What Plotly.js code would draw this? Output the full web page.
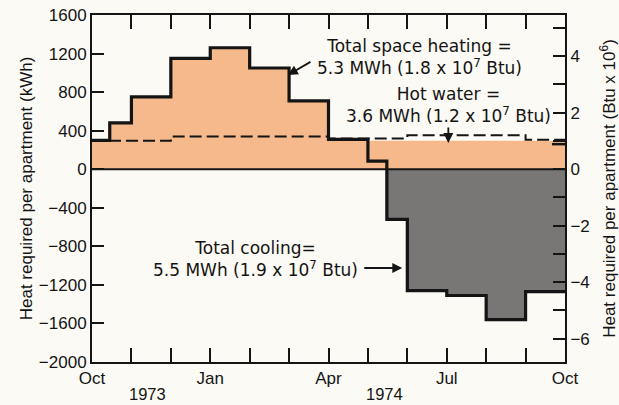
<!DOCTYPE html>
<html>
<head>
<meta charset="utf-8">
<script src="https://cdn.plot.ly/plotly-3.0.1.min.js"></script>
<style>html,body{margin:0;padding:0;background:#fcfaf4;}#chart{width:619px;height:405px;}</style>
</head>
<body>
<div id="chart"></div>
<script>
// Month index: 0 = 1 Oct 1973 ... 12 = 1 Oct 1974
var monthTicks = [0, 3, 6, 9, 12];
var monthLabels = ['Oct', 'Jan', 'Apr', 'Jul', 'Oct'];
var yearLabels = ['1973', '1974'];
var yearPos = [1.42, 7.41];

// Net monthly heat requirement (kWh): heating positive, cooling negative (step edges)
var netX = [0, 0.45, 1, 2, 3, 4, 5, 6, 7, 7.48, 8, 9, 10, 11, 12];
var netV = [300, 480, 750, 1150, 1260, 1050, 710, 310, 85, -520, -1260, -1310, -1560, -1270, -1270];

// Top of the heated (orange) area, kWh
var heatedTop = [300, 480, 750, 1150, 1260, 1050, 710, 310, 295, 295, 295, 295, 295, 295, 295];

// Cooling (grey) area, kWh
var coolX = [7.48, 8, 9, 10, 11, 12];
var coolV = [-520, -1260, -1310, -1560, -1270, -1270];

// Hot water requirement, kWh
var hotX = [0, 2, 6, 8, 11, 12];
var hotV = [295, 340, 320, 352, 305, 305];

// Heating resuming at end of September, kWh
var lateHeatX = [11.67, 12];
var lateHeatV = [260, 260];

var KWH_PER_MBTU = 293.07;
var yRange = [-2000, 1600];
var xRange = [0, 12];

var FONT = 'Liberation Sans, Arial, Helvetica, sans-serif';
var TFONT = 'DejaVu Sans, sans-serif';
var INK = '#141414';

var traces = [
  {x: netX, y: heatedTop, type: 'scatter', mode: 'lines', line: {shape: 'hv', width: 0},
   fill: 'tozeroy', fillcolor: '#f5b98b', hoverinfo: 'skip', showlegend: false},
  {x: coolX, y: coolV, type: 'scatter', mode: 'lines', line: {shape: 'hv', width: 0},
   fill: 'tozeroy', fillcolor: '#787775', hoverinfo: 'skip', showlegend: false},
  {x: hotX, y: hotV, type: 'scatter', mode: 'lines',
   line: {shape: 'hv', width: 2, color: INK, dash: '12px,5px'}, showlegend: false},
  {x: netX, y: netV, type: 'scatter', mode: 'lines',
   line: {shape: 'hv', width: 3.2, color: INK}, showlegend: false},
  {x: lateHeatX, y: lateHeatV, type: 'scatter', mode: 'lines',
   line: {shape: 'hv', width: 2.5, color: INK}, showlegend: false},
  {x: [0], y: [0], xaxis: 'x2', yaxis: 'y2', type: 'scatter', mode: 'markers', marker: {opacity: 0},
   hoverinfo: 'skip', showlegend: false}
];

var axisCommon = {
  showgrid: false, zeroline: false, showline: true, linecolor: INK, linewidth: 2,
  ticks: 'inside', tickcolor: INK, tickwidth: 2,
  tickfont: {family: FONT, size: 17, color: INK}
};

var annFont = {family: TFONT, size: 17, color: INK};

var layout = {
  width: 619, height: 405,
  margin: {l: 92, r: 54, t: 15, b: 43},
  paper_bgcolor: '#fcfaf4', plot_bgcolor: '#fcfaf4',
  font: {family: FONT, color: INK},
  showlegend: false,
  xaxis: Object.assign({}, axisCommon, {
    range: xRange, tickmode: 'array', tickvals: monthTicks, ticktext: monthLabels,
    ticklen: 14, mirror: true,
    minor: {dtick: 1, tick0: 0, ticks: 'inside', ticklen: 14, tickwidth: 2, tickcolor: INK, showgrid: false}
  }),
  xaxis2: Object.assign({}, axisCommon, {
    overlaying: 'x', side: 'top', anchor: 'y', range: xRange, dtick: 1, tick0: 0,
    ticklen: 14, showticklabels: false, showline: false
  }),
  yaxis: Object.assign({}, axisCommon, {
    range: yRange, dtick: 400, tick0: 0, ticklen: 12,
    title: {text: 'Heat required per apartment (kWh)', font: {family: FONT, size: 17, color: INK}, standoff: 2}
  }),
  yaxis2: Object.assign({}, axisCommon, {
    overlaying: 'y', side: 'right',
    range: [yRange[0] / KWH_PER_MBTU, yRange[1] / KWH_PER_MBTU],
    dtick: 2, tick0: 0, ticklen: 12,
    minor: {dtick: 1, tick0: 0, ticks: 'inside', ticklen: 12, tickwidth: 2, tickcolor: INK, showgrid: false},
    title: {text: 'Heat required per apartment (Btu x 10<sup>6</sup>)', font: {family: FONT, size: 17, color: INK}, standoff: 14}
  }),
  shapes: [
    {type: 'line', xref: 'paper', x0: 0, x1: 1, yref: 'y', y0: 0, y1: 0,
     line: {color: INK, width: 2}, layer: 'above'}
  ],
  annotations: [
    {text: 'Total space heating =<br>5.3 MWh (1.8 x 10<sup>7</sup> Btu)', x: 8.30, y: 1169, xref: 'x', yref: 'y',
     showarrow: false, font: annFont, borderpad: 0},
    {text: 'Hot water =<br>3.6 MWh (1.2 x 10<sup>7</sup> Btu)', x: 9.04, y: 662, xref: 'x', yref: 'y',
     showarrow: false, font: annFont, borderpad: 0},
    {text: 'Total cooling=<br>5.5 MWh (1.9 x 10<sup>7</sup> Btu)', x: 4.14, y: -931, xref: 'x', yref: 'y',
     showarrow: false, font: annFont, borderpad: 0},
    {text: '', x: 4.97, y: 978, ax: 5.58, ay: 1123, xref: 'x', yref: 'y', axref: 'x', ayref: 'y',
     showarrow: true, arrowhead: 2, arrowsize: 1.1, arrowwidth: 1.8, arrowcolor: INK, standoff: 0},
    {text: '', x: 9.04, y: 272, ax: 9.04, ay: 448, xref: 'x', yref: 'y', axref: 'x', ayref: 'y',
     showarrow: true, arrowhead: 2, arrowsize: 1.1, arrowwidth: 1.8, arrowcolor: INK, standoff: 0},
    {text: '', x: 7.87, y: -1025, ax: 6.87, ay: -1025, xref: 'x', yref: 'y', axref: 'x', ayref: 'y',
     showarrow: true, arrowhead: 2, arrowsize: 1.1, arrowwidth: 1.8, arrowcolor: INK, standoff: 0},
    {text: yearLabels[0], x: yearPos[0], y: -0.092, xref: 'x', yref: 'paper', yanchor: 'middle', showarrow: false,
     borderpad: 0, font: {size: 16.5, family: FONT, color: INK}},
    {text: yearLabels[1], x: yearPos[1], y: -0.092, xref: 'x', yref: 'paper', yanchor: 'middle', showarrow: false,
     borderpad: 0, font: {size: 16.5, family: FONT, color: INK}}
  ]
};

Plotly.newPlot('chart', traces, layout, {staticPlot: true, displayModeBar: false});
</script>
</body>
</html>
